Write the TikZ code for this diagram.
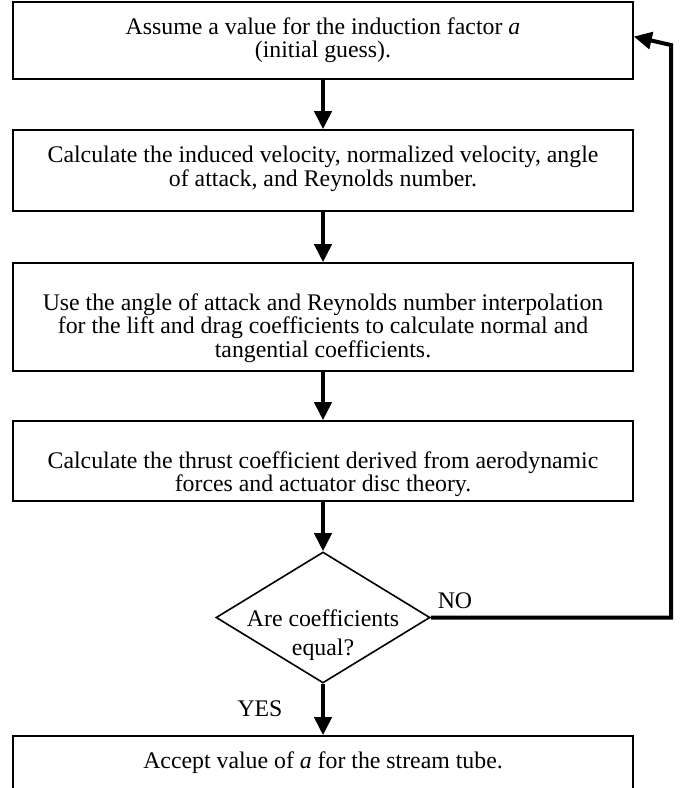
\documentclass[tikz,border=0pt]{standalone}
\usepackage{fontspec}
\setmainfont{Liberation Serif}
\usetikzlibrary{arrows.meta,shapes.geometric,calc}
\begin{document}
\begin{tikzpicture}[x=1pt,y=-1pt,
  box/.style={draw, line width=1.6pt, minimum width=620pt, inner sep=0pt},
  txt/.style={align=center, font=\fontsize{23.8}{23.6}\selectfont, inner sep=0pt},
  flow/.style={line width=4pt, line join=miter, -{Triangle[length=18pt,width=17pt]}},
  ]
\useasboundingbox (0,0) rectangle (681,788);
% boxes
\node[box, minimum height=77pt] (b1) at (323,40.5) {};
\node[box, minimum height=81pt] (b2) at (323,170.5) {};
\node[box, minimum height=108pt] (b3) at (323,317) {};
\node[box, minimum height=80pt] (b4) at (323,461) {};
\node[draw, diamond, line width=1.6pt, minimum width=214pt, minimum height=131pt, inner sep=0pt] (d) at (323,617.5) {};
\node[box, minimum height=70pt] (b5) at (323,771) {};
% texts
\node[txt] (t1) at (323,40) {Assume a value for the induction factor \textit{a}\\(initial guess).};
\node[txt] (t2) at (323,169) {Calculate the induced velocity, normalized velocity, angle\\of attack, and Reynolds number.};
\node[txt] (t3) at (323,328) {Use the angle of attack and Reynolds number interpolation\\for the lift and drag coefficients to calculate normal and\\tangential coefficients.};
\node[txt] (t4) at (323,474) {Calculate the thrust coefficient derived from aerodynamic\\forces and actuator disc theory.};
\node[txt, font=\fontsize{23.8}{29}\selectfont] (td) at (323,635) {Are coefficients\\equal?};
\node[txt] (t5) at (323,763) {Accept value of \textit{a} for the stream tube.};
\node[txt] (no) at (455,601) {NO};
\node[txt] (yes) at (260,709) {YES};
% connectors
\draw[flow] (b1.south) -- (b2.north);
\draw[flow] (b2.south) -- (b3.north);
\draw[flow] (b3.south) -- (b4.north);
\draw[flow] (b4.south) -- (d.north);
\draw[flow] (d.south) -- (b5.north);
\coordinate (c1) at (671,617.5);
\coordinate (c2) at (671,45);
\coordinate (fb) at ($(b1.north east)!0.45!(b1.south east)$);
\draw[flow] (d.east) -- (c1) -- (c2) -- (fb);
\end{tikzpicture}
\end{document}
